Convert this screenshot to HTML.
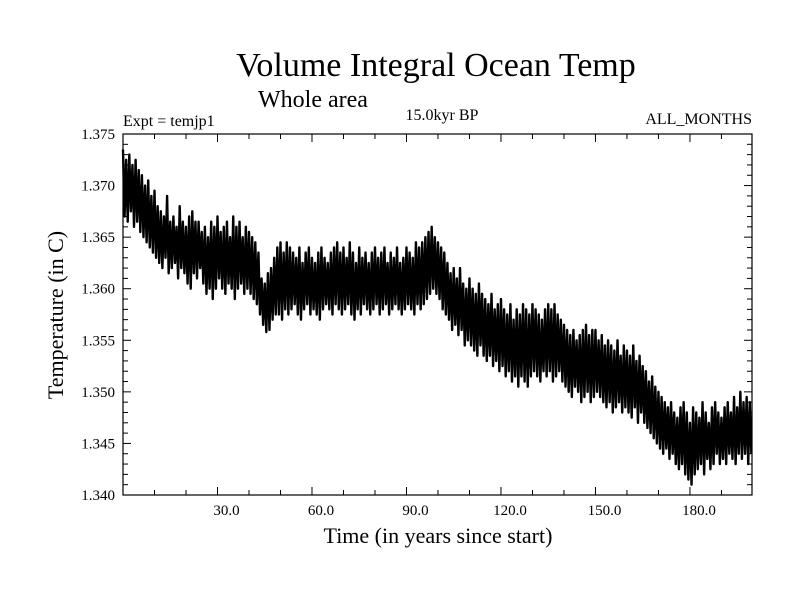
<!DOCTYPE html>
<html><head><meta charset="utf-8"><style>
body{margin:0;background:#fff;}
svg{display:block;font-family:"Liberation Serif",serif;}
</style></head><body>
<svg id="chart" width="800" height="600">
<rect width="800" height="600" fill="#fff"/>
<text x="436" y="76" font-size="34" text-anchor="middle">Volume Integral Ocean Temp</text>
<text x="313" y="107" font-size="24" text-anchor="middle">Whole area</text>
<text x="123" y="126" font-size="16">Expt = temjp1</text>
<text x="442" y="120" font-size="16" text-anchor="middle">15.0kyr BP</text>
<text x="752" y="124" font-size="16" text-anchor="end">ALL_MONTHS</text>
<text x="438" y="543" font-size="22" text-anchor="middle">Time (in years since start)</text>
<text x="0" y="0" font-size="22" text-anchor="middle" transform="translate(63,315) rotate(-90)">Temperature (in C)</text>
<g id="marks"></g>
<g id="axes"></g>
</svg>
<script>
const xTicks=[30,60,90,120,150,180];
const xTickLabels=["30.0","60.0","90.0","120.0","150.0","180.0"];
const yTicks=[1.340,1.345,1.350,1.355,1.360,1.365,1.370,1.375];
const yTickLabels=["1.340","1.345","1.350","1.355","1.360","1.365","1.370","1.375"];
const annualHigh=[
1.3735,1.3725,1.3730,1.3720,1.3725,1.3715,1.3710,1.3700,1.3705,1.3690,
1.3695,1.3680,1.3675,1.3670,1.3690,1.3665,1.3670,1.3660,1.3680,1.3665,
1.3660,1.3670,1.3675,1.3665,1.3665,1.3655,1.3660,1.3650,1.3665,1.3660,
1.3670,1.3655,1.3660,1.3665,1.3650,1.3670,1.3660,1.3665,1.3650,1.3660,
1.3655,1.3650,1.3645,1.3635,1.3610,1.3605,1.3615,1.3620,1.3630,1.3640,
1.3645,1.3635,1.3645,1.3640,1.3635,1.3630,1.3640,1.3625,1.3635,1.3640,
1.3630,1.3625,1.3635,1.3640,1.3630,1.3625,1.3635,1.3640,1.3645,1.3635,
1.3640,1.3630,1.3645,1.3635,1.3625,1.3640,1.3630,1.3635,1.3625,1.3635,
1.3640,1.3630,1.3635,1.3640,1.3625,1.3635,1.3630,1.3640,1.3625,1.3630,
1.3640,1.3635,1.3630,1.3645,1.3640,1.3645,1.3650,1.3655,1.3660,1.3650,
1.3645,1.3640,1.3635,1.3625,1.3615,1.3620,1.3610,1.3620,1.3605,1.3600,
1.3610,1.3600,1.3595,1.3605,1.3595,1.3590,1.3585,1.3595,1.3580,1.3585,
1.3590,1.3580,1.3575,1.3585,1.3570,1.3580,1.3575,1.3585,1.3580,1.3575,
1.3585,1.3580,1.3575,1.3570,1.3580,1.3585,1.3580,1.3585,1.3575,1.3570,
1.3565,1.3560,1.3555,1.3560,1.3550,1.3555,1.3560,1.3565,1.3555,1.3560,
1.3560,1.3550,1.3555,1.3545,1.3550,1.3545,1.3540,1.3550,1.3535,1.3545,
1.3540,1.3535,1.3545,1.3530,1.3535,1.3525,1.3520,1.3510,1.3515,1.3505,
1.3500,1.3495,1.3490,1.3485,1.3490,1.3480,1.3475,1.3485,1.3490,1.3480,
1.3470,1.3485,1.3480,1.3475,1.3490,1.3480,1.3470,1.3485,1.3490,1.3480,
1.3475,1.3485,1.3490,1.3480,1.3495,1.3485,1.3500,1.3490,1.3495,1.3490];
const annualLow=[
1.3670,1.3665,1.3675,1.3660,1.3665,1.3655,1.3650,1.3645,1.3640,1.3635,
1.3630,1.3625,1.3620,1.3630,1.3615,1.3620,1.3625,1.3610,1.3620,1.3615,
1.3605,1.3600,1.3615,1.3610,1.3620,1.3605,1.3595,1.3600,1.3590,1.3600,
1.3610,1.3600,1.3595,1.3605,1.3600,1.3590,1.3600,1.3605,1.3595,1.3600,
1.3595,1.3590,1.3585,1.3575,1.3565,1.3558,1.3560,1.3570,1.3575,1.3575,
1.3570,1.3580,1.3575,1.3580,1.3585,1.3575,1.3570,1.3580,1.3585,1.3575,
1.3580,1.3575,1.3570,1.3580,1.3585,1.3580,1.3575,1.3585,1.3580,1.3575,
1.3580,1.3585,1.3575,1.3570,1.3580,1.3575,1.3585,1.3580,1.3575,1.3580,
1.3585,1.3575,1.3580,1.3585,1.3575,1.3580,1.3585,1.3580,1.3575,1.3580,
1.3585,1.3580,1.3575,1.3585,1.3580,1.3585,1.3590,1.3595,1.3600,1.3595,
1.3590,1.3580,1.3575,1.3570,1.3560,1.3565,1.3555,1.3560,1.3545,1.3550,
1.3545,1.3540,1.3535,1.3545,1.3535,1.3530,1.3535,1.3525,1.3530,1.3520,
1.3525,1.3515,1.3520,1.3510,1.3515,1.3505,1.3515,1.3510,1.3505,1.3515,
1.3520,1.3515,1.3510,1.3520,1.3515,1.3520,1.3510,1.3515,1.3520,1.3510,
1.3505,1.3500,1.3495,1.3505,1.3500,1.3490,1.3495,1.3500,1.3490,1.3495,
1.3500,1.3495,1.3490,1.3485,1.3490,1.3480,1.3485,1.3490,1.3480,1.3485,
1.3480,1.3475,1.3485,1.3470,1.3480,1.3470,1.3465,1.3460,1.3455,1.3450,
1.3445,1.3440,1.3445,1.3435,1.3440,1.3430,1.3425,1.3430,1.3420,1.3415,
1.3410,1.3420,1.3425,1.3430,1.3420,1.3435,1.3425,1.3430,1.3440,1.3430,
1.3435,1.3430,1.3440,1.3435,1.3430,1.3440,1.3435,1.3440,1.3430,1.3440];

const L=123,R=752,T=134,B=495,X0=0,X1=199.7,Y0=1.340,Y1=1.375;
const xs=v=>L+(v-X0)/(X1-X0)*(R-L);
const ys=v=>B-(v-Y0)/(Y1-Y0)*(B-T);
const NS="http://www.w3.org/2000/svg";
function mk(tag,attrs,parent){const e=document.createElementNS(NS,tag);for(const k in attrs)e.setAttribute(k,attrs[k]);parent.appendChild(e);return e;}
const marks=document.getElementById('marks'),axes=document.getElementById('axes');
let d="";
for(let i=0;i<annualHigh.length;i++){
  d+=(i?"L":"M")+xs(i).toFixed(2)+","+ys(annualHigh[i]).toFixed(2)+"L"+xs(i+0.5).toFixed(2)+","+ys(annualLow[i]).toFixed(2);
}
const line=mk('path',{d:d,fill:'none',stroke:'#000','stroke-width':'2.4','stroke-linejoin':'round'},marks);


const frame=mk('rect',{x:L,y:T,width:R-L,height:B-T,fill:'none',stroke:'#000','stroke-width':'1.2'},axes);


for(let v=10;v<X1;v+=10){
  const x=xs(v),major=v%30===0,len=major?8:5;
  mk('line',{x1:x,x2:x,y1:B,y2:B-len,stroke:'#000'},axes);
  mk('line',{x1:x,x2:x,y1:T,y2:T+len,stroke:'#000'},axes);
}
for(let k=0;k<=35;k++){
  const v=Y0+k*0.001,y=ys(v),len=k%5===0?8:5;
  mk('line',{x1:L,x2:L+len,y1:y,y2:y,stroke:'#000'},axes);
  mk('line',{x1:R,x2:R-len,y1:y,y2:y,stroke:'#000'},axes);
}
xTicks.forEach((v,i)=>{
  const t=mk('text',{x:xs(v)+9,y:B+20,'font-size':'15','text-anchor':'middle'},axes);
  t.textContent=xTickLabels[i];
  
  
});
yTicks.forEach((v,i)=>{
  const t=mk('text',{x:L-8,y:ys(v)+5,'font-size':'15','text-anchor':'end'},axes);
  t.textContent=yTickLabels[i];
  
  
});
</script>
</body></html>
